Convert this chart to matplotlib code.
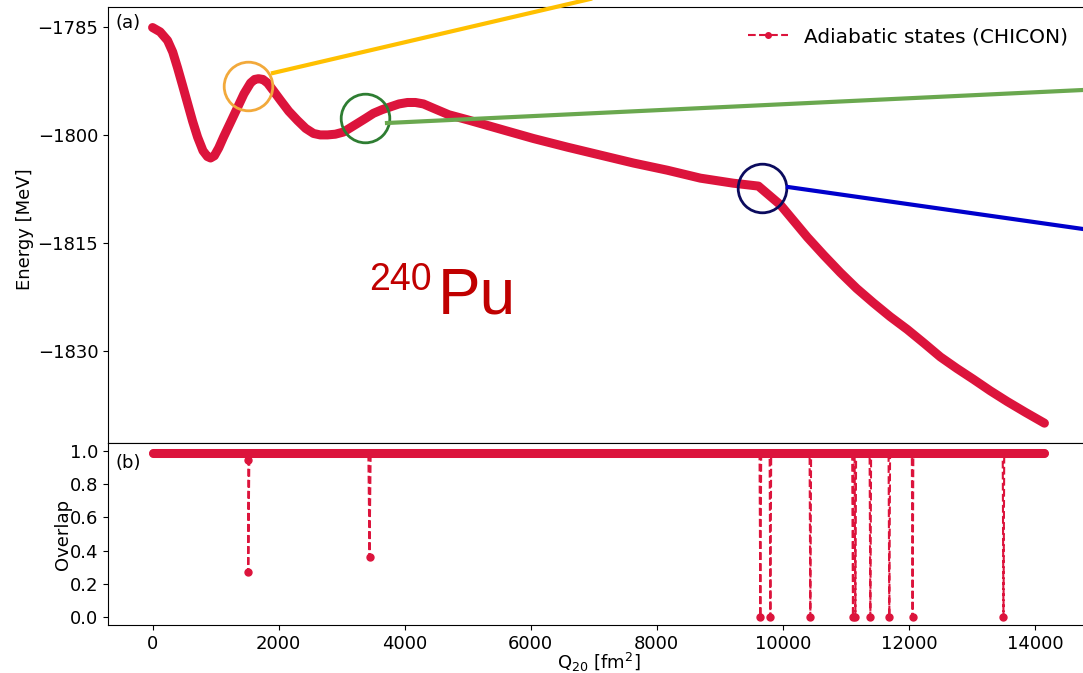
import matplotlib
matplotlib.use("Agg")
import matplotlib.pyplot as plt
from matplotlib.lines import Line2D

# ---------------- data ----------------
q_energy = [0, 120, 238, 320, 397, 475, 555, 635, 714, 800, 870, 920, 980, 1050,
            1126, 1240, 1348, 1450, 1554, 1620, 1681, 1750, 1824, 1920, 2030, 2160,
            2300, 2430, 2554, 2660, 2776, 2900, 3029, 3140, 3251, 3380, 3505, 3640,
            3775, 3910, 4044, 4170, 4298, 4457, 4700, 4996, 5519, 6043, 6582, 7105,
            7629, 8168, 8692, 9215, 9612, 9960, 10170, 10389, 10650, 10912, 11170,
            11435, 11700, 11975, 12240, 12498, 12760, 13021, 13290, 13561, 13850,
            14150]
energy = [-1785.1, -1785.7, -1786.9, -1788.5, -1790.7, -1793.1, -1795.6, -1798.1,
          -1800.3, -1802.2, -1803.0, -1803.2, -1802.9, -1801.8, -1800.3, -1798.2,
          -1796.2, -1794.3, -1792.8, -1792.3, -1792.2, -1792.3, -1792.8, -1793.9,
          -1795.2, -1796.7, -1798.0, -1799.1, -1799.8, -1800.0, -1800.0, -1799.9,
          -1799.6, -1799.0, -1798.4, -1797.7, -1797.0, -1796.5, -1796.1, -1795.7,
          -1795.5, -1795.5, -1795.7, -1796.3, -1797.2, -1797.9, -1799.2, -1800.5,
          -1801.7, -1802.8, -1803.9, -1804.9, -1806.0, -1806.7, -1807.1, -1809.7,
          -1811.9, -1814.2, -1816.7, -1819.1, -1821.3, -1823.3, -1825.2, -1827.0,
          -1828.9, -1830.8, -1832.4, -1833.9, -1835.5, -1837.0, -1838.5, -1840.0]

q_overlap = [0, 1500, 1518, 1518, 1536, 3424, 3442, 3460, 9630, 9643, 9656,
             9790, 9802, 9815, 10424, 10436, 10448, 11100, 11112, 11125, 11138,
             11150, 11162, 11376, 11388, 11400, 11677, 11689, 11701, 12046, 12058,
             12070, 13488, 13500, 13512, 14150]
overlap = [0.99, 0.99, 0.95, 0.27, 0.99, 0.99, 0.36, 0.99, 0.99, 0.0, 0.99,
           0.99, 0.0, 0.99, 0.99, 0.0, 0.99, 0.99, 0.0, 0.99, 0.99,
           0.0, 0.99, 0.99, 0.0, 0.99, 0.99, 0.0, 0.99, 0.99, 0.0,
           0.99, 0.99, 0.0, 0.99, 0.99]

band_q = [0, 14150]
band_val = [0.99, 0.99]

x_ticks = [0, 2000, 4000, 6000, 8000, 10000, 12000, 14000]
e_ticks = [-1785, -1800, -1815, -1830]
o_ticks = [0.0, 0.2, 0.4, 0.6, 0.8, 1.0]

# highlighted points (Q, E) and the colours of the zoom markers
hl_q = [1507, 3378, 9675]
hl_e = [-1793.2, -1797.7, -1807.3]
hl_circle_col = ["#F2A93B", "#2E7D32", "#0B0B5E"]
hl_line_col = ["#FFC000", "#6AA84F", "#0000CC"]

RED = "crimson"

# ---------------- figure ----------------
W, H = 1083, 673
fig = plt.figure(figsize=(W / 100, H / 100), dpi=100)

def fx(px):
    return px / W

def fy(py):
    return 1 - py / H

left, right = fx(108), fx(1089)
ax1 = fig.add_axes([left, fy(443), right - left, fy(7) - fy(443)])
ax2 = fig.add_axes([left, fy(625), right - left, fy(443) - fy(625)], sharex=ax1)

plt.rcParams['font.family'] = ['DejaVu Sans']
FS = 13

# top panel
ax1.plot(q_energy, energy, color=RED, lw=6.5, solid_capstyle='round',
         solid_joinstyle='round', zorder=3)
ax1.plot([], [], ls='--', marker='o', ms=4, lw=1.5, color=RED,
         label='Adiabatic states (CHICON)')
ax1.set_xlim(-707, 14857)
ax1.set_ylim(-1842.75, -1782.25)
ax1.set_yticks(e_ticks)
ax1.set_yticklabels([f"\u2212{abs(v)}" for v in e_ticks])
ax1.tick_params(labelsize=FS, labelbottom=False)
ax1.set_ylabel('Energy [MeV]', fontsize=FS)
ax1.yaxis.set_label_coords(-0.075, 0.49)
ax1.text(0.008, 0.985, '(a)', transform=ax1.transAxes, va='top', ha='left', fontsize=FS)
ax1.legend(loc='upper right', fontsize=14.5, frameon=False,
           bbox_to_anchor=(0.997, 0.995), handlelength=2.0)

# bottom panel
ax2.plot(band_q, band_val, color=RED, lw=6.5, solid_capstyle='round', zorder=3)
ax2.plot(q_overlap, overlap, color=RED, ls='--', lw=1.5, marker='o', ms=5, zorder=2)
ax2.set_ylim(-0.05, 1.05)
ax2.set_yticks(o_ticks)
ax2.set_yticklabels([f"{v:.1f}" for v in o_ticks])
ax2.set_xticks(x_ticks)
ax2.tick_params(labelsize=FS)
ax2.set_ylabel('Overlap', fontsize=FS)
ax2.yaxis.set_label_coords(-0.037, 0.5)
ax2.set_xlabel(r'Q$_{20}$ [fm$^{2}$]', fontsize=FS, labelpad=-1)
ax2.text(0.008, 0.94, '(b)', transform=ax2.transAxes, va='top', ha='left', fontsize=FS)

# highlight circles
for q, e, c in zip(hl_q, hl_e, hl_circle_col):
    ax1.plot([q], [e], marker='o', ms=35, mfc='none', mec=c, mew=2, zorder=5,
             clip_on=False)

# connector lines (figure pixel coordinates of annotation overlay)
conn = [((273, 73), (1083, -116)), ((387, 123), (1083, 90)), ((788, 187), (1083, 229))]
for (p0, p1), c in zip(conn, hl_line_col):
    fig.add_artist(Line2D([fx(p0[0]), fx(p1[0])], [fy(p0[1]), fy(p1[1])],
                          color=c, lw=3, transform=fig.transFigure, zorder=6))

# nucleus label
fig.text(fx(369), fy(290), '240', fontsize=27, color='#C00000',
         family='Liberation Sans', va='baseline', ha='left')
fig.text(fx(438), fy(314), 'Pu', fontsize=46, color='#C00000',
         family='Liberation Sans', va='baseline', ha='left')

fig.savefig('out.png', dpi=100)
